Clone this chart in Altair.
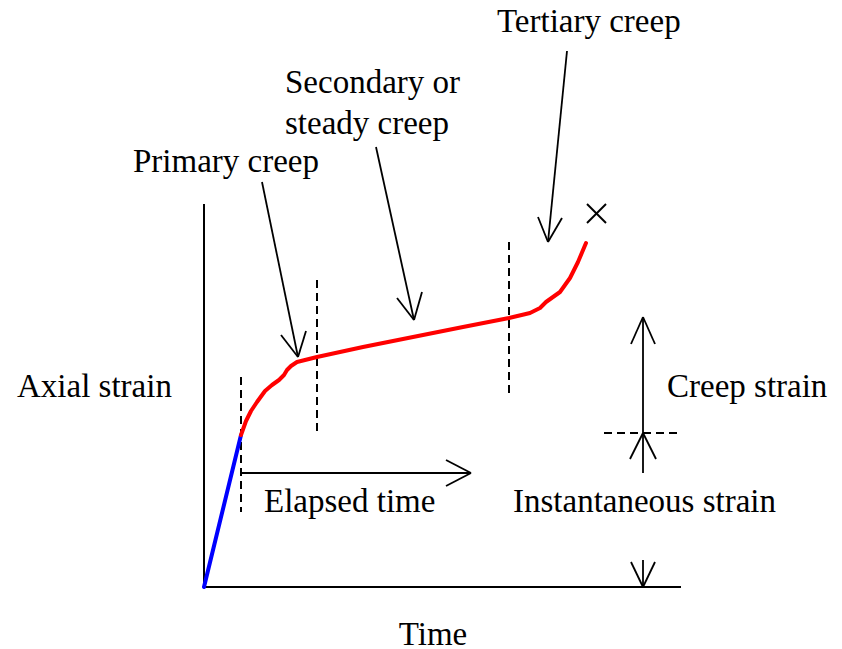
import altair as alt
import pandas as pd

# Coordinates: t = elapsed time units, e = axial strain units (origin at axes corner)
# Instantaneous (blue) loading segment
blue_t = [0, 37]
blue_e = [0, 152]

# Creep curve (red)
red_t = [37, 42, 47, 53, 61, 68, 75, 80, 83, 87, 93, 101, 113, 159, 209, 259, 305,
         326, 336, 342, 356, 366, 374, 382]
red_e = [152, 166, 176, 185, 196, 202, 207, 212, 217, 221, 225, 227, 230, 240, 250,
         260, 269, 274, 279, 285, 295, 309, 325, 344]

# Axes (t1, e1, t2, e2)
axes_segs = [(0, 0, 0, 383), (0, 0, 477, 0)]

# Dashed stage boundaries
dash_segs = [(37, 210, 37, 75), (113, 307, 113, 153), (305, 345, 305, 191),
             (400, 154, 475, 154)]

# Arrows: shafts and heads
arrow_segs = [
    # elapsed time
    (37, 114, 267, 114), (267, 114, 242, 127), (267, 114, 242, 101),
    # primary creep
    (58, 405, 94, 230), (94, 230, 77, 252), (94, 230, 102, 256),
    # secondary creep
    (172, 440, 210, 267), (210, 267, 193, 289), (210, 267, 218, 295),
    # tertiary creep
    (363, 536, 344, 345), (344, 345, 334, 370), (344, 345, 358, 369),
    # creep strain (up)
    (439, 154, 439, 270), (439, 270, 427, 243), (439, 270, 451, 243),
    # instantaneous strain (up)
    (439, 114, 439, 154), (439, 154, 426, 128), (439, 154, 452, 128),
    # instantaneous strain (down)
    (439, 27, 439, 0), (439, 0, 427, 25), (439, 0, 451, 25),
]

# Rupture mark
x_segs = [(383, 383, 402, 364), (402, 383, 383, 364)]

# Labels
label_text = ["Axial strain", "Primary creep", "Secondary or", "steady creep",
              "Tertiary creep", "Creep strain", "Instantaneous strain", "Elapsed time"]
label_t = [-187, -71, 81, 81, 293, 463, 309, 60]
label_e = [190, 415, 494, 453, 555, 190, 75, 75]

xlabel_text = ["Time"]
xlabel_t = [229]
xlabel_e = [-58]

T_DOMAIN = [-196, 630]
E_DOMAIN = [-62, 579]

xs = alt.Scale(domain=T_DOMAIN, nice=False, zero=False)
ys = alt.Scale(domain=E_DOMAIN, nice=False, zero=False)

FONT = "Liberation Serif"


def segs_df(segs):
    return pd.DataFrame(segs, columns=["t1", "e1", "t2", "e2"])


def rules(segs, width, dash=None):
    m = alt.Chart(segs_df(segs)).mark_rule(
        color="black", strokeWidth=width, **({"strokeDash": dash} if dash else {})
    )
    return m.encode(
        x=alt.X("t1:Q", scale=xs, axis=None),
        y=alt.Y("e1:Q", scale=ys, axis=None),
        x2="t2:Q",
        y2="e2:Q",
    )


def curve(ts, es, color):
    df = pd.DataFrame({"t": ts, "e": es, "i": range(len(ts))})
    return alt.Chart(df).mark_line(color=color, strokeWidth=4, strokeCap="round",
                                   strokeJoin="round").encode(
        x=alt.X("t:Q", scale=xs, axis=None),
        y=alt.Y("e:Q", scale=ys, axis=None),
        order="i:Q",
    )


labels = alt.Chart(pd.DataFrame({"t": label_t, "e": label_e, "s": label_text})).mark_text(
    font=FONT, fontSize=33, align="left", baseline="alphabetic", color="black"
).encode(
    x=alt.X("t:Q", scale=xs, axis=None),
    y=alt.Y("e:Q", scale=ys, axis=None),
    text="s:N",
)

xlabel = alt.Chart(pd.DataFrame({"t": xlabel_t, "e": xlabel_e, "s": xlabel_text})).mark_text(
    font=FONT, fontSize=33, align="center", baseline="alphabetic", color="black"
).encode(
    x=alt.X("t:Q", scale=xs, axis=None),
    y=alt.Y("e:Q", scale=ys, axis=None),
    text="s:N",
)

chart = alt.layer(
    rules(dash_segs, 2, [8, 5]),
    rules(axes_segs, 2),
    rules(arrow_segs, 1.8),
    rules(x_segs, 2),
    curve(blue_t, blue_e, "#0000ff"),
    curve(red_t, red_e, "#ff0000"),
    labels,
    xlabel,
).properties(
    width=826, height=641, padding=0,
    autosize=alt.AutoSizeParams(type="none"),
).configure_view(stroke=None)

chart.save("out.html", embed_options={"renderer": "svg", "actions": False})
